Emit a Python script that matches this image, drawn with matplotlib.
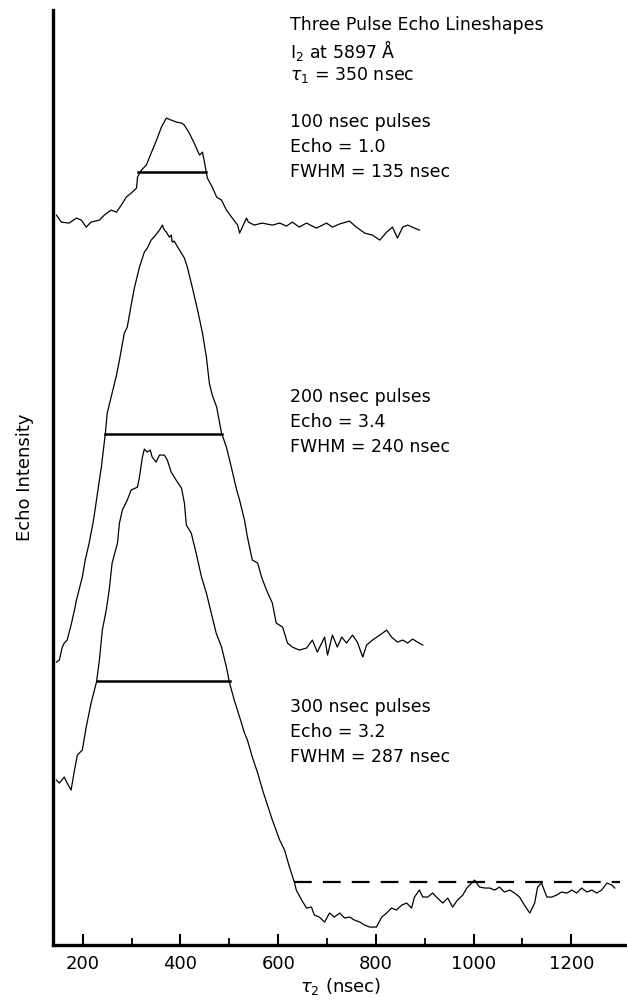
import matplotlib.pyplot as plt
from matplotlib.ticker import FixedLocator

plt.rcParams['font.family'] = ['DejaVu Sans']
plt.rcParams['mathtext.fontset'] = 'dejavusans'

# 100 nsec pulses
x1 = [146, 156, 172, 187, 197, 207, 217, 234, 244, 258,
      269, 279, 289, 299, 310, 312, 320, 330, 340, 351,
      361, 371, 381, 392, 402, 408, 418, 428, 439, 445,
      449, 455, 465, 474, 484, 494, 506, 517, 521, 535,
      539, 551, 567, 588, 603, 617, 629, 643, 658, 678,
      699, 711, 725, 746, 760, 777, 793, 808, 822, 834,
      844, 855, 865, 879, 889]
y1 = [730, 723, 722, 727, 725, 718, 723, 725, 730, 735,
      733, 740, 748, 752, 757, 768, 775, 780, 792, 805,
      818, 827, 825, 823, 822, 820, 812, 802, 790, 793,
      783, 767, 758, 748, 745, 735, 727, 720, 712, 727,
      723, 720, 722, 720, 722, 719, 723, 718, 722, 717,
      722, 718, 721, 724, 718, 712, 710, 705, 713, 718,
      707, 718, 720, 717, 715]

# 200 nsec pulses
x2 = [146, 152, 158, 162, 168, 176, 183, 187, 199, 205,
      213, 222, 228, 234, 238, 246, 250, 260, 269, 275,
      285, 291, 299, 306, 316, 326, 332, 340, 349, 357,
      363, 367, 371, 377, 381, 383, 387, 398, 408, 414,
      424, 435, 445, 453, 459, 465, 474, 484, 494, 504,
      515, 521, 531, 537, 547, 558, 566, 576, 588, 596,
      609, 619, 629, 643, 658, 670, 680, 695, 701, 711,
      721, 730, 740, 752, 762, 773, 781, 793, 808, 822,
      832, 844, 855, 865, 875, 885, 896]
y2 = [283, 285, 298, 302, 305, 320, 335, 345, 368, 385,
      402, 425, 445, 465, 478, 511, 532, 552, 570, 585,
      612, 618, 640, 658, 678, 693, 697, 705, 710, 715,
      720, 715, 713, 708, 710, 703, 704, 695, 687, 678,
      658, 635, 612, 588, 562, 550, 538, 512, 498, 478,
      455, 445, 425, 408, 385, 382, 368, 355, 342, 322,
      318, 302, 298, 295, 297, 305, 293, 308, 290, 310,
      298, 308, 302, 310, 303, 288, 300, 305, 310, 315,
      308, 303, 305, 302, 306, 303, 300]

# 300 nsec pulses
x3 = [146, 152, 162, 168, 176, 183, 189, 199, 207, 217,
      228, 234, 240, 248, 254, 260, 271, 275, 281, 291,
      299, 312, 316, 322, 326, 332, 338, 342, 350, 357,
      367, 373, 381, 391, 402, 408, 412, 422, 432, 443,
      453, 463, 473, 484, 494, 500, 510, 521, 531, 537,
      547, 558, 568, 578, 588, 603, 613, 623, 633, 637,
      648, 658, 668, 674, 684, 695, 705, 715, 726, 736,
      746, 756, 767, 777, 787, 801, 812, 822, 832, 842,
      853, 863, 873, 879, 889, 896, 906, 916, 926, 937,
      947, 957, 967, 978, 986, 996, 1002, 1012, 1023, 1033,
      1043, 1053, 1063, 1074, 1084, 1094, 1104, 1115, 1125, 1131,
      1139, 1150, 1160, 1170, 1180, 1191, 1201, 1211, 1221, 1232,
      1242, 1252, 1262, 1273, 1283, 1289]
y3 = [165, 162, 168, 162, 155, 175, 190, 195, 218, 242,
      263, 285, 315, 335, 355, 382, 402, 422, 435, 445,
      455, 458, 468, 488, 496, 493, 495, 488, 483, 490,
      490, 485, 473, 465, 457, 442, 420, 412, 392, 368,
      352, 332, 312, 298, 278, 263, 245, 228, 212, 205,
      188, 172, 155, 140, 125, 105, 95, 78, 63, 55,
      45, 37, 38, 30, 28, 23, 32, 28, 32, 27,
      28, 25, 23, 20, 18, 18, 28, 32, 37, 35,
      40, 42, 37, 48, 55, 48, 48, 52, 47, 42,
      47, 38, 45, 50, 57, 62, 65, 58, 57, 57,
      55, 58, 53, 55, 52, 48, 40, 32, 42, 58,
      62, 48, 48, 50, 53, 52, 55, 52, 57, 53,
      55, 52, 55, 62, 60, 57]

# half-max bars (x start, x end, level)
fwhm_bars = [(314, 453, 773), (246, 484, 511), (230, 502, 264)]
base3 = (633, 1300, 63)

title_lines = ["Three Pulse Echo Lineshapes", r"I$_2$ at 5897 Å", r"$\tau_{\rm 1}$ = 350 nsec"]
blocks = [["100 nsec pulses", "Echo = 1.0", "FWHM = 135 nsec"],
          ["200 nsec pulses", "Echo = 3.4", "FWHM = 240 nsec"],
          ["300 nsec pulses", "Echo = 3.2", "FWHM = 287 nsec"]]

fig = plt.figure(figsize=(6.27, 10.01), dpi=100)
ax = fig.add_axes([0.0853, 0.0559, 0.9147, 0.934])

for xs, ys in [(x1, y1), (x2, y2), (x3, y3)]:
    ax.plot(xs, ys, color='black', lw=0.9)
for a, b, lev in fwhm_bars:
    ax.plot([a, b], [lev, lev], color='black', lw=1.8)
ax.plot([base3[0], base3[1]], [base3[2], base3[2]], color='black', lw=1.6,
        dashes=(8, 5))

ax.set_xlim(140, 1314)
ax.set_ylim(0, 935)
ax.spines['top'].set_visible(False)
ax.spines['right'].set_visible(False)
ax.spines['left'].set_linewidth(2.4)
ax.spines['bottom'].set_linewidth(2.4)
ax.set_yticks([])
ax.xaxis.set_major_locator(FixedLocator([200, 400, 600, 800, 1000, 1200]))
ax.xaxis.set_minor_locator(FixedLocator([300, 500, 700, 900, 1100]))
ax.tick_params(axis='x', which='major', direction='in', length=8, width=1.5,
               labelsize=13, pad=7)
ax.tick_params(axis='x', which='minor', direction='in', length=5, width=1.3)
ax.set_xlabel(r"$\tau_2$ (nsec)", fontsize=13, labelpad=2)
ax.set_ylabel("Echo Intensity", fontsize=13, labelpad=14)

tx = 625
for i, s in enumerate(title_lines):
    ax.text(tx, 920 - 25 * i, s, fontsize=12.5, va='center', ha='left')
block_tops = [823, 548, 238]
for top, lines in zip(block_tops, blocks):
    for i, s in enumerate(lines):
        ax.text(tx, top - 25 * i, s, fontsize=12.5, va='center', ha='left')

fig.savefig('out.png', dpi=100)
